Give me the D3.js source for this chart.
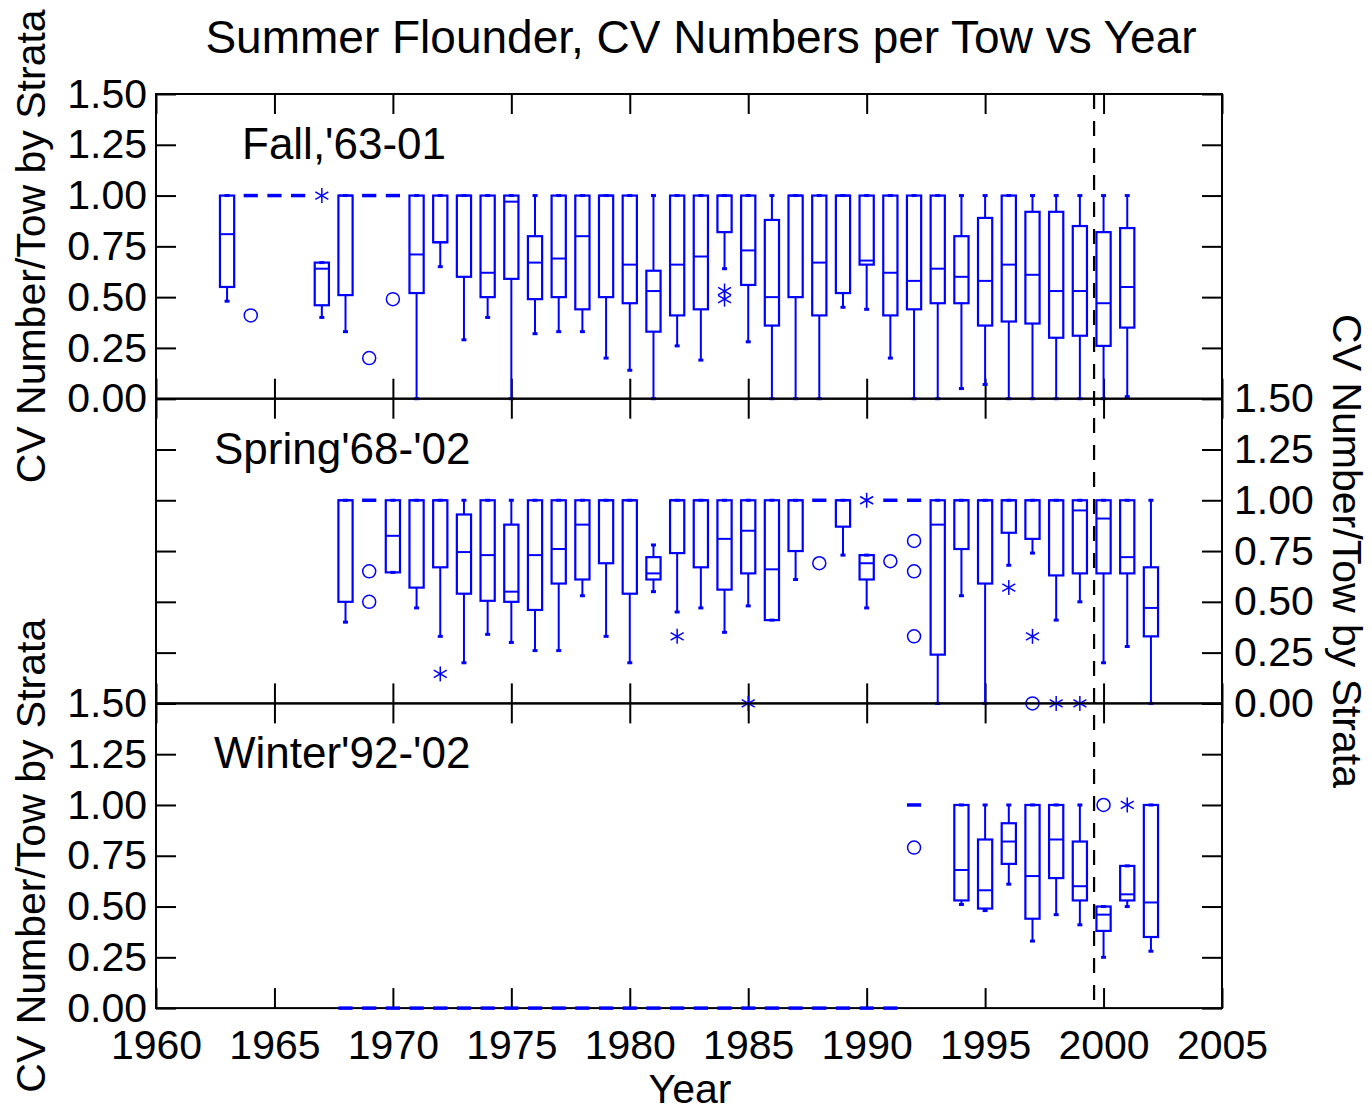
<!DOCTYPE html>
<html>
<head>
<meta charset="utf-8">
<script src="https://cdn.jsdelivr.net/npm/d3@7"></script>
<style>
  body { margin: 0; background: #fff; }
  svg { display: block; font-family: "Liberation Sans", Arial, sans-serif; }
</style>
</head>
<body>
<div id="chart"></div>
<script>
// box rows: [year, low whisker, q1, median, q3, high whisker]
const fallBoxes = [
  [1963, 0.48, 0.55, 0.81, 1.00, 1.00],
  [1964, 1.00, 1.00, 1.00, 1.00, 1.00],
  [1965, 1.00, 1.00, 1.00, 1.00, 1.00],
  [1966, 1.00, 1.00, 1.00, 1.00, 1.00],
  [1967, 0.40, 0.46, 0.64, 0.67, 0.67],
  [1968, 0.33, 0.51, 1.00, 1.00, 1.00],
  [1969, 1.00, 1.00, 1.00, 1.00, 1.00],
  [1970, 1.00, 1.00, 1.00, 1.00, 1.00],
  [1971, 0.00, 0.52, 0.71, 1.00, 1.00],
  [1972, 0.65, 0.77, 0.77, 1.00, 1.00],
  [1973, 0.29, 0.60, 1.00, 1.00, 1.00],
  [1974, 0.40, 0.50, 0.62, 1.00, 1.00],
  [1975, 0.00, 0.59, 0.97, 1.00, 1.00],
  [1976, 0.32, 0.49, 0.67, 0.80, 1.00],
  [1977, 0.33, 0.50, 0.69, 1.00, 1.00],
  [1978, 0.33, 0.44, 0.80, 1.00, 1.00],
  [1979, 0.20, 0.50, 1.00, 1.00, 1.00],
  [1980, 0.14, 0.47, 0.66, 1.00, 1.00],
  [1981, 0.00, 0.33, 0.53, 0.63, 1.00],
  [1982, 0.26, 0.41, 0.66, 1.00, 1.00],
  [1983, 0.19, 0.44, 0.70, 1.00, 1.00],
  [1984, 0.64, 0.82, 1.00, 1.00, 1.00],
  [1985, 0.28, 0.56, 0.73, 1.00, 1.00],
  [1986, 0.00, 0.36, 0.50, 0.88, 1.00],
  [1987, 0.00, 0.50, 1.00, 1.00, 1.00],
  [1988, 0.00, 0.41, 0.67, 1.00, 1.00],
  [1989, 0.45, 0.52, 1.00, 1.00, 1.00],
  [1990, 0.44, 0.66, 0.68, 1.00, 1.00],
  [1991, 0.20, 0.41, 0.62, 1.00, 1.00],
  [1992, 0.00, 0.44, 0.58, 1.00, 1.00],
  [1993, 0.00, 0.47, 0.64, 1.00, 1.00],
  [1994, 0.05, 0.47, 0.60, 0.80, 1.00],
  [1995, 0.07, 0.36, 0.58, 0.89, 1.00],
  [1996, 0.00, 0.38, 0.66, 1.00, 1.00],
  [1997, 0.00, 0.37, 0.61, 0.92, 1.00],
  [1998, 0.00, 0.30, 0.53, 0.92, 1.00],
  [1999, 0.00, 0.31, 0.53, 0.85, 1.00],
  [2000, 0.00, 0.26, 0.47, 0.82, 1.00],
  [2001, 0.01, 0.35, 0.55, 0.84, 1.00]
];
const fallCircles = [[1964, 0.41], [1969, 0.20], [1970, 0.49]];
const fallStars = [[1967, 1.00], [1984, 0.53], [1984, 0.49]];

const springBoxes = [
  [1968, 0.40, 0.50, 1.00, 1.00, 1.00],
  [1969, 1.00, 1.00, 1.00, 1.00, 1.00],
  [1970, 0.645, 0.645, 0.825, 1.00, 1.00],
  [1971, 0.47, 0.57, 1.00, 1.00, 1.00],
  [1972, 0.33, 0.67, 1.00, 1.00, 1.00],
  [1973, 0.20, 0.54, 0.745, 0.93, 1.00],
  [1974, 0.34, 0.505, 0.73, 1.00, 1.00],
  [1975, 0.30, 0.50, 0.55, 0.88, 1.00],
  [1976, 0.26, 0.46, 0.73, 1.00, 1.00],
  [1977, 0.26, 0.59, 0.76, 1.00, 1.00],
  [1978, 0.53, 0.61, 0.88, 1.00, 1.00],
  [1979, 0.33, 0.69, 1.00, 1.00, 1.00],
  [1980, 0.20, 0.54, 1.00, 1.00, 1.00],
  [1981, 0.55, 0.61, 0.64, 0.72, 0.78],
  [1982, 0.45, 0.74, 1.00, 1.00, 1.00],
  [1983, 0.47, 0.67, 1.00, 1.00, 1.00],
  [1984, 0.35, 0.56, 0.81, 1.00, 1.00],
  [1985, 0.48, 0.64, 0.85, 1.00, 1.00],
  [1986, 0.41, 0.41, 0.66, 1.00, 1.00],
  [1987, 0.61, 0.75, 1.00, 1.00, 1.00],
  [1988, 1.00, 1.00, 1.00, 1.00, 1.00],
  [1989, 0.73, 0.87, 1.00, 1.00, 1.00],
  [1990, 0.47, 0.61, 0.69, 0.73, 0.73],
  [1991, 1.00, 1.00, 1.00, 1.00, 1.00],
  [1992, 1.00, 1.00, 1.00, 1.00, 1.00],
  [1993, 0.00, 0.24, 0.88, 1.00, 1.00],
  [1994, 0.53, 0.76, 1.00, 1.00, 1.00],
  [1995, 0.00, 0.59, 1.00, 1.00, 1.00],
  [1996, 0.68, 0.84, 1.00, 1.00, 1.00],
  [1997, 0.74, 0.81, 1.00, 1.00, 1.00],
  [1998, 0.41, 0.63, 1.00, 1.00, 1.00],
  [1999, 0.50, 0.64, 0.95, 1.00, 1.00],
  [2000, 0.20, 0.64, 0.91, 1.00, 1.00],
  [2001, 0.28, 0.64, 0.72, 1.00, 1.00],
  [2002, 0.00, 0.33, 0.47, 0.67, 1.00]
];
const springCircles = [[1969, 0.65], [1969, 0.50], [1988, 0.69], [1991, 0.70],
  [1992, 0.80], [1992, 0.65], [1992, 0.33], [1997, 0.00]];
const springStars = [[1972, 0.145], [1982, 0.33], [1985, 0.00], [1990, 1.00],
  [1996, 0.57], [1997, 0.33], [1998, 0.00], [1999, 0.00]];

const winterBoxes = [
  [1968, 0, 0, 0, 0, 0], [1969, 0, 0, 0, 0, 0], [1970, 0, 0, 0, 0, 0],
  [1971, 0, 0, 0, 0, 0], [1972, 0, 0, 0, 0, 0], [1973, 0, 0, 0, 0, 0],
  [1974, 0, 0, 0, 0, 0], [1975, 0, 0, 0, 0, 0], [1976, 0, 0, 0, 0, 0],
  [1977, 0, 0, 0, 0, 0], [1978, 0, 0, 0, 0, 0], [1979, 0, 0, 0, 0, 0],
  [1980, 0, 0, 0, 0, 0], [1981, 0, 0, 0, 0, 0], [1982, 0, 0, 0, 0, 0],
  [1983, 0, 0, 0, 0, 0], [1984, 0, 0, 0, 0, 0], [1985, 0, 0, 0, 0, 0],
  [1986, 0, 0, 0, 0, 0], [1987, 0, 0, 0, 0, 0], [1988, 0, 0, 0, 0, 0],
  [1989, 0, 0, 0, 0, 0], [1990, 0, 0, 0, 0, 0], [1991, 0, 0, 0, 0, 0],
  [1992, 1.00, 1.00, 1.00, 1.00, 1.00],
  [1994, 0.51, 0.53, 0.68, 1.00, 1.00],
  [1995, 0.48, 0.49, 0.58, 0.83, 1.00],
  [1996, 0.61, 0.71, 0.82, 0.91, 1.00],
  [1997, 0.33, 0.44, 0.65, 1.00, 1.00],
  [1998, 0.46, 0.64, 0.83, 1.00, 1.00],
  [1999, 0.41, 0.53, 0.60, 0.82, 1.00],
  [2000, 0.25, 0.38, 0.46, 0.50, 0.50],
  [2001, 0.50, 0.53, 0.56, 0.70, 0.70],
  [2002, 0.28, 0.35, 0.52, 1.00, 1.00]
];
const winterCircles = [[1992, 0.79], [2000, 1.00]];
const winterStars = [[2001, 1.00]];

const yTicks = [0, 0.25, 0.5, 0.75, 1.0, 1.25, 1.5];
const xTicks = [1960, 1965, 1970, 1975, 1980, 1985, 1990, 1995, 2000, 2005];
const cutYear = 1999.6;

const W = 1372, H = 1113;
const plotL = 156, plotR = 1222, plotT = 94, panelH = 304.7;
const blue = "#0000ff";
const font = "'Liberation Sans', Arial, sans-serif";

const svg = d3.select("#chart").append("svg")
  .attr("width", W).attr("height", H);

const x = d3.scaleLinear().domain([1960, 2005]).range([plotL, plotR]);

const panels = [
  {name: "Fall,'63-01", lx: 242, boxes: fallBoxes, circles: fallCircles, stars: fallStars, leftLabels: true, rightLabels: false},
  {name: "Spring'68-'02", lx: 214, boxes: springBoxes, circles: springCircles, stars: springStars, leftLabels: false, rightLabels: true},
  {name: "Winter'92-'02", lx: 214, boxes: winterBoxes, circles: winterCircles, stars: winterStars, leftLabels: true, rightLabels: false}
];

function styleAxis(g) {
  g.select(".domain").remove();
  g.selectAll(".tick line").attr("stroke", "#000").attr("stroke-width", 2);
  g.selectAll(".tick text").attr("font-family", font).attr("font-size", 41).attr("fill", "#000");
}

panels.forEach((p, i) => {
  const y0 = plotT + i * panelH;
  const y = d3.scaleLinear().domain([0, 1.5]).range([y0 + panelH, y0]);
  const g = svg.append("g");

  // axes with inward ticks
  g.append("g").attr("transform", `translate(${plotL},0)`)
    .call(d3.axisLeft(y).tickValues(yTicks).tickSize(-20).tickPadding(9)
      .tickFormat(p.leftLabels ? d3.format(".2f") : ""))
    .call(styleAxis);
  g.append("g").attr("transform", `translate(${plotR},0)`)
    .call(d3.axisRight(y).tickValues(yTicks).tickSize(-20).tickPadding(12)
      .tickFormat(p.rightLabels ? d3.format(".2f") : ""))
    .call(styleAxis);
  g.append("g").attr("transform", `translate(0,${y0})`)
    .call(d3.axisTop(x).tickValues(xTicks).tickSize(-20).tickFormat(""))
    .call(styleAxis);
  g.append("g").attr("transform", `translate(0,${y0 + panelH})`)
    .call(d3.axisBottom(x).tickValues(xTicks).tickSize(-20).tickPadding(22)
      .tickFormat(i === 2 ? d3.format("d") : ""))
    .call(styleAxis);

  g.append("rect")
    .attr("x", plotL).attr("y", y0).attr("width", plotR - plotL).attr("height", panelH)
    .attr("fill", "none").attr("stroke", "#000").attr("stroke-width", 2);

  g.append("text")
    .attr("x", p.lx).attr("y", y0 + 65)
    .attr("font-family", font).attr("font-size", 44)
    .text(p.name);

  const hw = (x(1960.3) - x(1960));
  const bx = g.append("g").attr("fill", "none").attr("stroke", blue);

  p.boxes.forEach(d => {
    const [yr, lo, q1, med, q3, hi] = d;
    const cx = x(yr);
    if (q3 - q1 < 0.005) {
      bx.append("line").attr("x1", cx - hw).attr("x2", cx + hw)
        .attr("y1", y(q1)).attr("y2", y(q1)).attr("stroke-width", 3.5);
      return;
    }
    // whiskers
    bx.append("line").attr("x1", cx).attr("x2", cx).attr("y1", y(q3)).attr("y2", y(hi)).attr("stroke-width", 2);
    bx.append("line").attr("x1", cx).attr("x2", cx).attr("y1", y(q1)).attr("y2", y(lo)).attr("stroke-width", 2);
    [lo, hi].forEach(v => {
      bx.append("line").attr("x1", cx - 2.5).attr("x2", cx + 2.5)
        .attr("y1", y(v)).attr("y2", y(v)).attr("stroke-width", 3);
    });
    bx.append("rect").attr("x", cx - hw).attr("width", 2 * hw)
      .attr("y", y(q3)).attr("height", y(q1) - y(q3)).attr("stroke-width", 2.2);
    bx.append("line").attr("x1", cx - hw).attr("x2", cx + hw)
      .attr("y1", y(med)).attr("y2", y(med)).attr("stroke-width", 2);
  });

  bx.selectAll("circle.out").data(p.circles).enter().append("circle")
    .attr("class", "out")
    .attr("cx", d => x(d[0])).attr("cy", d => y(d[1])).attr("r", 6.5)
    .attr("stroke-width", 1.5);

  const star = bx.selectAll("g.star").data(p.stars).enter().append("g")
    .attr("class", "star")
    .attr("transform", d => `translate(${x(d[0])},${y(d[1])})`);
  [90, 30, 150].forEach(a => {
    const r = 7.5, t = a * Math.PI / 180;
    star.append("line")
      .attr("x1", -r * Math.cos(t)).attr("y1", -r * Math.sin(t))
      .attr("x2", r * Math.cos(t)).attr("y2", r * Math.sin(t))
      .attr("stroke-width", 1.5);
  });
});

// dashed reference line through all panels
svg.append("line")
  .attr("x1", x(cutYear)).attr("x2", x(cutYear))
  .attr("y1", plotT).attr("y2", plotT + 3 * panelH)
  .attr("stroke", "#000").attr("stroke-width", 2.2)
  .attr("stroke-dasharray", "15,12");

// titles
svg.append("text")
  .attr("x", 701).attr("y", 53).attr("text-anchor", "middle")
  .attr("font-family", font).attr("font-size", 46)
  .text("Summer Flounder, CV Numbers per Tow vs Year");

svg.append("text")
  .attr("x", 690).attr("y", 1103).attr("text-anchor", "middle")
  .attr("font-family", font).attr("font-size", 41)
  .text("Year");

const yLabel = "CV Number/Tow by Strata";
svg.append("text")
  .attr("transform", `translate(45,${plotT + panelH / 2}) rotate(-90)`)
  .attr("text-anchor", "middle").attr("font-family", font).attr("font-size", 41)
  .text(yLabel);
svg.append("text")
  .attr("transform", `translate(45,${plotT + 2.5 * panelH}) rotate(-90)`)
  .attr("text-anchor", "middle").attr("font-family", font).attr("font-size", 41)
  .text(yLabel);
svg.append("text")
  .attr("transform", `translate(1333,${plotT + 1.5 * panelH}) rotate(90)`)
  .attr("text-anchor", "middle").attr("font-family", font).attr("font-size", 41)
  .text(yLabel);
</script>
</body>
</html>
